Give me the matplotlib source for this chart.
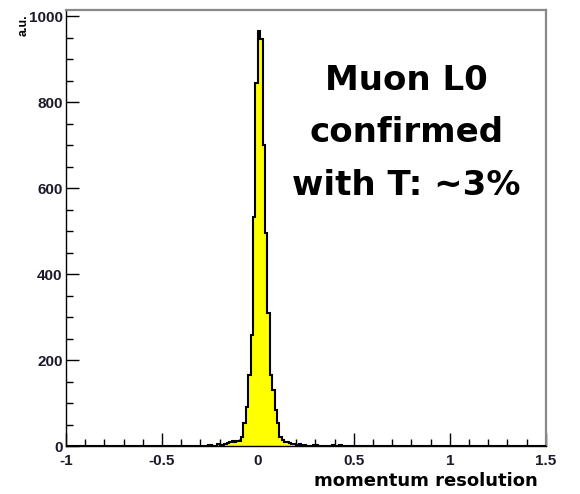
import matplotlib
matplotlib.use("Agg")
import matplotlib.pyplot as plt
from matplotlib.ticker import MultipleLocator
import numpy as np

plt.rcParams['font.family'] = ['Liberation Sans', 'DejaVu Sans']

# histogram binning: 200 bins between -1 and 1.5
x_lo, x_hi, n_bins = -1.0, 1.5, 200
edges = np.linspace(x_lo, x_hi, n_bins + 1)

# bin contents, first bin starts at x = -0.3
first_bin_left = -0.3
peak_counts = [
    1, 2, 0, 4, 3, 1, 2, 5, 4, 3,            # -0.300 .. -0.1875
    6, 8, 10, 12, 11, 12, 12, 22, 55, 92,    # -0.175 .. -0.0625
    166, 260, 534, 845,                      # -0.050 .. -0.0125
    965, 947, 700, 496, 310, 166, 131, 85,   #  0.000 ..  0.0875
    55, 22, 14, 11, 10, 8, 5, 6, 4, 5,       #  0.100 ..  0.2125
    2, 3, 2, 1, 2, 3, 4, 2, 1, 2,            #  0.225 ..  0.3375
    1, 2, 1, 4, 2, 1, 3, 2,                  #  0.350 ..  0.4375
]

counts = np.zeros(n_bins)
i0 = int(round((first_bin_left - x_lo) / (edges[1] - edges[0])))
counts[i0:i0 + len(peak_counts)] = peak_counts

x_major = [-1, -0.5, 0, 0.5, 1, 1.5]
x_major_labels = ["-1", "-0.5", "0", "0.5", "1", "1.5"]
y_major = [0, 200, 400, 600, 800, 1000]

tick_font = ['Liberation Sans Narrow', 'Liberation Sans', 'DejaVu Sans']

fig = plt.figure(figsize=(5.8, 4.94), dpi=100)
ax = fig.add_axes([0.1138, 0.0962, 0.8271, 0.8836])

# yellow filled histogram with black contour
ax.stairs(counts, edges, fill=True, facecolor="#ffff00", edgecolor="none", zorder=2)
ax.stairs(counts, edges, fill=False, color="black", linewidth=1.5, zorder=3)

ax.set_xlim(x_lo, x_hi)
ax.set_ylim(0, 1015)

ax.set_xticks(x_major)
ax.set_xticklabels(x_major_labels)
ax.set_yticks(y_major)
ax.xaxis.set_minor_locator(MultipleLocator(0.1))
ax.yaxis.set_minor_locator(MultipleLocator(50))

ax.tick_params(which='both', direction='in', top=False, right=False,
               colors='black', width=1.0)
ax.tick_params(which='major', length=9.5, labelsize=11)
ax.tick_params(which='minor', length=5)
ax.tick_params(axis='x', pad=5.5)
ax.tick_params(axis='y', pad=2.5)
for lab in ax.get_xticklabels() + ax.get_yticklabels():
    lab.set_fontweight('bold')
    lab.set_family(tick_font)
    lab.set_color('#1a1a2a')

for side in ['left', 'bottom']:
    ax.spines[side].set_color('black')
    ax.spines[side].set_linewidth(1.0)
for side in ['top', 'right']:
    ax.spines[side].set_color('#888888')
    ax.spines[side].set_linewidth(1.6)

# axis titles, ROOT style (right / top aligned)
ax.text(0.984, -0.079, "momentum resolution", transform=ax.transAxes,
        ha='right', va='center', fontsize=13, fontweight='bold',
        family=['DejaVu Sans'], clip_on=False)
ax.text(-0.088, 0.99, "a.u.", transform=ax.transAxes, rotation=90,
        ha='center', va='top', fontsize=9, fontweight='bold',
        family=tick_font, clip_on=False)

# annotation
note_lines = ["Muon L0", "confirmed", "with T: ~3%"]
note_base_y = [829, 708, 585]
for line, yb in zip(note_lines, note_base_y):
    ax.text(0.775, yb, line, ha='center', va='baseline',
            fontsize=24.5, fontweight='bold', color='black',
            family=['DejaVu Sans'])

fig.savefig("out.png", dpi=100, facecolor='white')
